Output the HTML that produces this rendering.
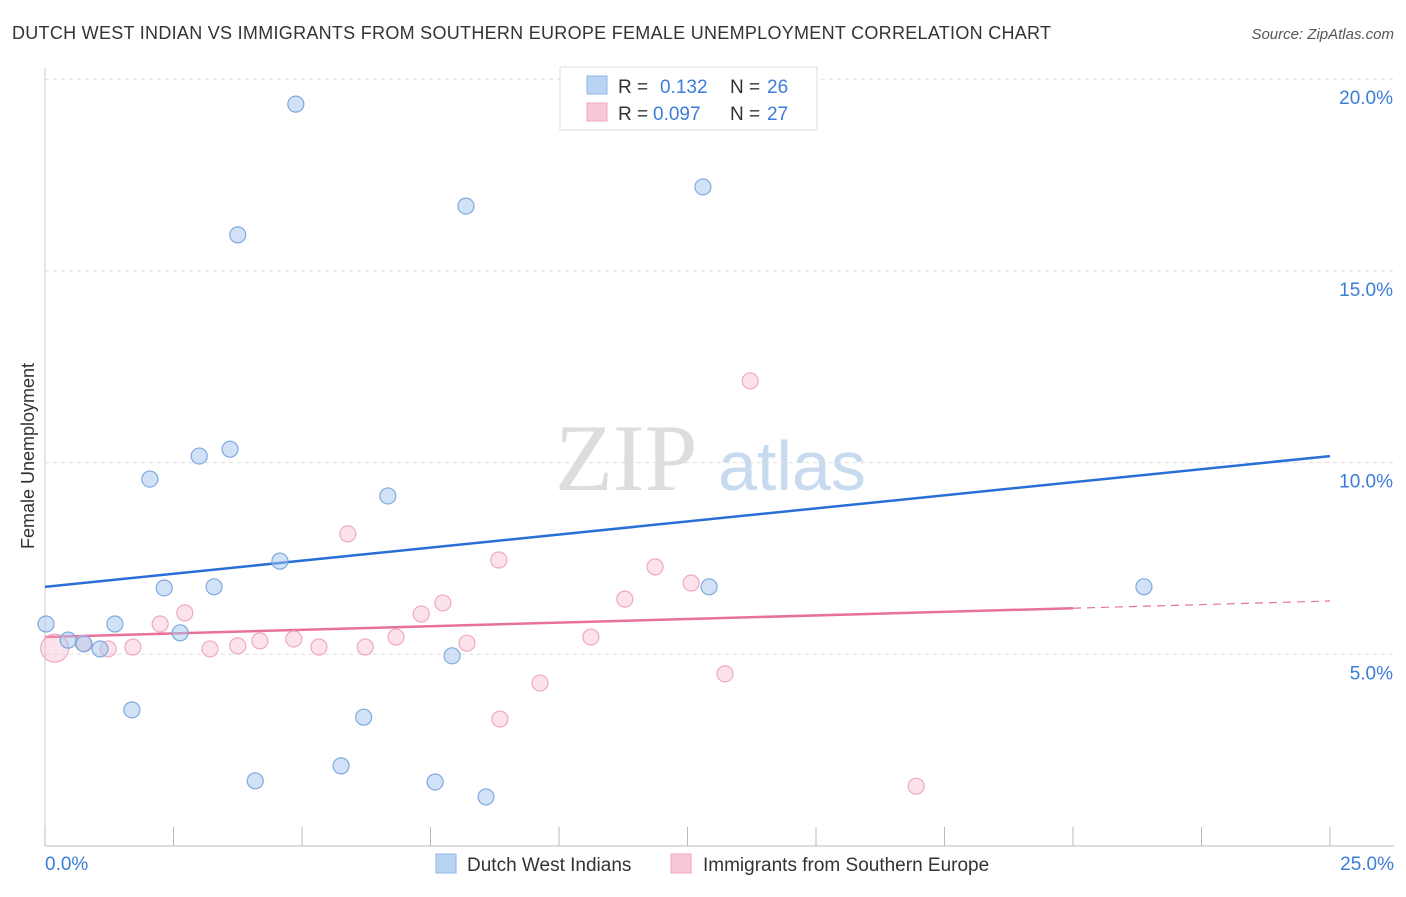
<!DOCTYPE html>
<html><head><meta charset="utf-8"><style>
body{margin:0;background:#fff;font-family:"Liberation Sans",sans-serif;}
</style></head><body>
<svg id="chart" width="1406" height="892" font-family="Liberation Sans, sans-serif">
<text x="12" y="39" font-size="18" fill="#333" textLength="1039">DUTCH WEST INDIAN VS IMMIGRANTS FROM SOUTHERN EUROPE FEMALE UNEMPLOYMENT CORRELATION CHART</text>
<text x="1394" y="39" font-size="15" fill="#555" text-anchor="end" font-style="italic">Source: ZipAtlas.com</text>
<text x="34" y="456" font-size="18" fill="#333" text-anchor="middle" transform="rotate(-90 34 456)">Female Unemployment</text>
<text x="555" y="490" font-size="95" fill="#ddd" style="font-family:'Liberation Serif',serif">ZIP</text>
<text x="718" y="490" font-size="70" fill="#c8daf0">atlas</text>
<g id="grid"></g><g id="axes"></g><g id="lines"></g><g id="points"></g>
<g>
<rect x="560" y="67" width="257" height="63" fill="#fff" stroke="#ddd"/>
<rect x="587" y="76" width="20" height="18" fill="#b9d3f3" stroke="#8fb8e8"/>
<text x="618" y="93" font-size="19" fill="#333">R = </text><text x="660" y="93" font-size="19" fill="#3b7dd8">0.132</text>
<text x="730" y="93" font-size="19" fill="#333">N = </text><text x="767" y="93" font-size="19" fill="#3b7dd8">26</text>
<rect x="587" y="103" width="20" height="18" fill="#f8c8d6" stroke="#f0a8c0"/>
<text x="618" y="120" font-size="19" fill="#333">R = </text><text x="653" y="120" font-size="19" fill="#3b7dd8">0.097</text>
<text x="730" y="120" font-size="19" fill="#333">N = </text><text x="767" y="120" font-size="19" fill="#3b7dd8">27</text>
</g>
<g>
<rect x="436" y="854" width="20" height="19" fill="#b9d3f3" stroke="#8fb8e8"/>
<text x="467" y="871" font-size="19" fill="#333">Dutch West Indians</text>
<rect x="671" y="854" width="20" height="19" fill="#f8c8d6" stroke="#f0a8c0"/>
<text x="703" y="871" font-size="19" fill="#333">Immigrants from Southern Europe</text>
</g>
</svg>
<script>
const blueX=[0.02,0.45,0.76,1.07,1.36,1.69,2.04,2.32,2.63,3.0,3.29,3.6,3.75,4.09,4.57,4.88,5.76,6.2,6.67,7.59,7.92,8.19,8.58,12.8,12.92,21.38];
const blueY=[5.79,5.37,5.27,5.14,5.79,3.55,9.57,6.73,5.56,10.17,6.76,10.35,15.94,1.7,7.43,19.35,2.09,3.36,9.13,1.67,4.96,16.69,1.28,17.19,6.76,6.76];
const pinkX=[0.19,0.74,1.23,1.71,2.24,2.72,3.21,3.75,4.18,4.84,5.33,5.89,6.23,6.83,7.32,7.74,8.21,8.83,8.85,9.63,10.62,11.28,11.87,12.57,13.23,13.72,16.95];
const pinkY=[5.16,5.29,5.14,5.19,5.79,6.08,5.14,5.22,5.35,5.4,5.19,8.14,5.19,5.45,6.05,6.34,5.29,7.46,3.31,4.25,5.45,6.44,7.28,6.86,4.49,12.13,1.56];
const blueTrend=[6.76,10.17];
const pinkTrend=[5.45,6.39];
const yTicks=[5,10,15,20];
const yTickLabels=["5.0%","10.0%","15.0%","20.0%"];
const xTickLabels=["0.0%","25.0%"];
const NS="http://www.w3.org/2000/svg";
const sx=v=>45+v*51.4, sy=v=>846-v*38.34;
function mk(tag,attrs,parent){const e=document.createElementNS(NS,tag);for(const k in attrs)e.setAttribute(k,attrs[k]);document.getElementById(parent).appendChild(e);return e;}
yTicks.forEach((t,i)=>{
 const l=mk('line',{x1:45,x2:1394,y1:sy(t),y2:sy(t),stroke:'#ddd','stroke-dasharray':'4,4'},'grid');
 
 
 const tx=mk('text',{x:1393,y:sy(t)+25,'font-size':19,fill:'#3b7dd8','text-anchor':'end'},'grid');
 tx.textContent=yTickLabels[i];
 
 
});
const ax=mk('line',{x1:45,x2:1394,y1:846,y2:846,stroke:'#bbb'},'axes');


const ay=mk('line',{x1:45,x2:45,y1:68,y2:846,stroke:'#ccc'},'axes');


for(let i=0;i<=10;i++){
 const t=mk('line',{x1:sx(i*2.5),x2:sx(i*2.5),y1:827,y2:846,stroke:'#bbb'},'axes');
 
 
}
[[0,'start',45],[25,'end',1394]].forEach((d,i)=>{
 const t=mk('text',{x:d[2],y:870,'font-size':19,fill:'#3b7dd8','text-anchor':d[1]},'axes');
 t.textContent=xTickLabels[i];
 
 
});
const bl=mk('line',{x1:sx(0),y1:sy(blueTrend[0]),x2:sx(25),y2:sy(blueTrend[1]),stroke:'#2a6fd6','stroke-width':2.5},'lines');


const pAt=x=>pinkTrend[0]+(pinkTrend[1]-pinkTrend[0])*x/25;
const pl=mk('line',{x1:sx(0),y1:sy(pAt(0)),x2:sx(20),y2:sy(pAt(20)),stroke:'#e8719a','stroke-width':2.5},'lines');


const pd=mk('line',{x1:sx(20),y1:sy(pAt(20)),x2:sx(25),y2:sy(pAt(25)),stroke:'#e8719a','stroke-width':1.2,'stroke-dasharray':'8,6'},'lines');


pinkX.forEach((x,i)=>{
 const c=mk('circle',{cx:sx(x),cy:sy(pinkY[i]),r:i===0?14:8,fill:'rgba(245,175,198,0.35)',stroke:'#f0a8c0','stroke-width':1.2},'points');
 
 
});
blueX.forEach((x,i)=>{
 const c=mk('circle',{cx:sx(x),cy:sy(blueY[i]),r:8,fill:'rgba(164,198,240,0.5)',stroke:'#7fa9df','stroke-width':1.2},'points');
 
 
});
</script>
</body></html>
